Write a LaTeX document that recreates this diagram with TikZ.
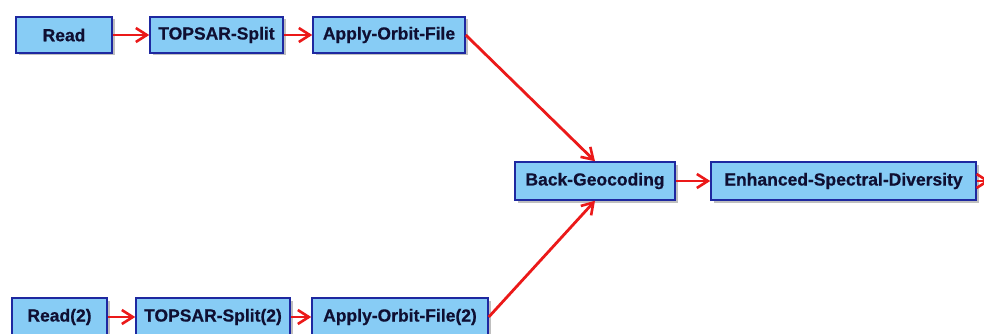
\documentclass[tikz,border=0pt]{standalone}
\usepackage{fontspec}
\setmainfont[BoldFeatures={FakeBold=0.6}]{Liberation Sans}
\usetikzlibrary{arrows.meta,shadows}
\definecolor{boxfill}{RGB}{135,204,245}
\definecolor{boxdraw}{RGB}{30,40,160}
\definecolor{boxtext}{RGB}{15,15,50}
\definecolor{arrowred}{RGB}{235,25,25}
\tikzset{
  opbox/.style={draw=boxdraw, line width=1.5pt, fill=boxfill, text=boxtext,
    font=\fontsize{17.5}{19}\selectfont\bfseries, inner sep=0pt, minimum height=36pt,
    drop shadow={shadow xshift=2.5pt, shadow yshift=-2.5pt, opacity=0.5, fill=gray}},
  flow/.style={draw=arrowred, line width=2.8pt, -{Straight Barb[length=11pt,width=14pt,line width=2.6pt]}}
}
\begin{document}
\begin{tikzpicture}[x=1pt,y=-1pt]
\useasboundingbox (0,0) rectangle (984,334);
\node[opbox, minimum width=96pt] (read) at (64,35) {Read};
\node[opbox, minimum width=133pt] (split) at (216.5,35) {TOPSAR-Split};
\node[opbox, minimum width=152pt] (orbit) at (389,35) {Apply-Orbit-File};
\node[opbox, minimum width=95pt, minimum height=38pt] (read2) at (59.5,317) {Read(2)};
\node[opbox, minimum width=154pt, minimum height=38pt] (split2) at (213,317) {TOPSAR-Split(2)};
\node[opbox, minimum width=176pt, minimum height=38pt] (orbit2) at (400,317) {Apply-Orbit-File(2)};
\node[opbox, minimum width=160pt, minimum height=38pt] (bgc) at (595,181) {Back-Geocoding};
\node[opbox, minimum width=265pt, minimum height=38pt] (esd) at (843.5,181) {Enhanced-Spectral-Diversity};
\coordinate (out) at (990,181);
\draw[flow] (read) -- (split);
\draw[flow] (split) -- (orbit);
\draw[flow] (read2) -- (split2);
\draw[flow] (split2) -- (orbit2);
\draw[flow] (orbit.east) -- (bgc.north);
\draw[flow] (orbit2.east) -- (bgc.south);
\draw[flow] (bgc) -- (esd);
\draw[flow] (esd) -- (out);
\end{tikzpicture}
\end{document}
